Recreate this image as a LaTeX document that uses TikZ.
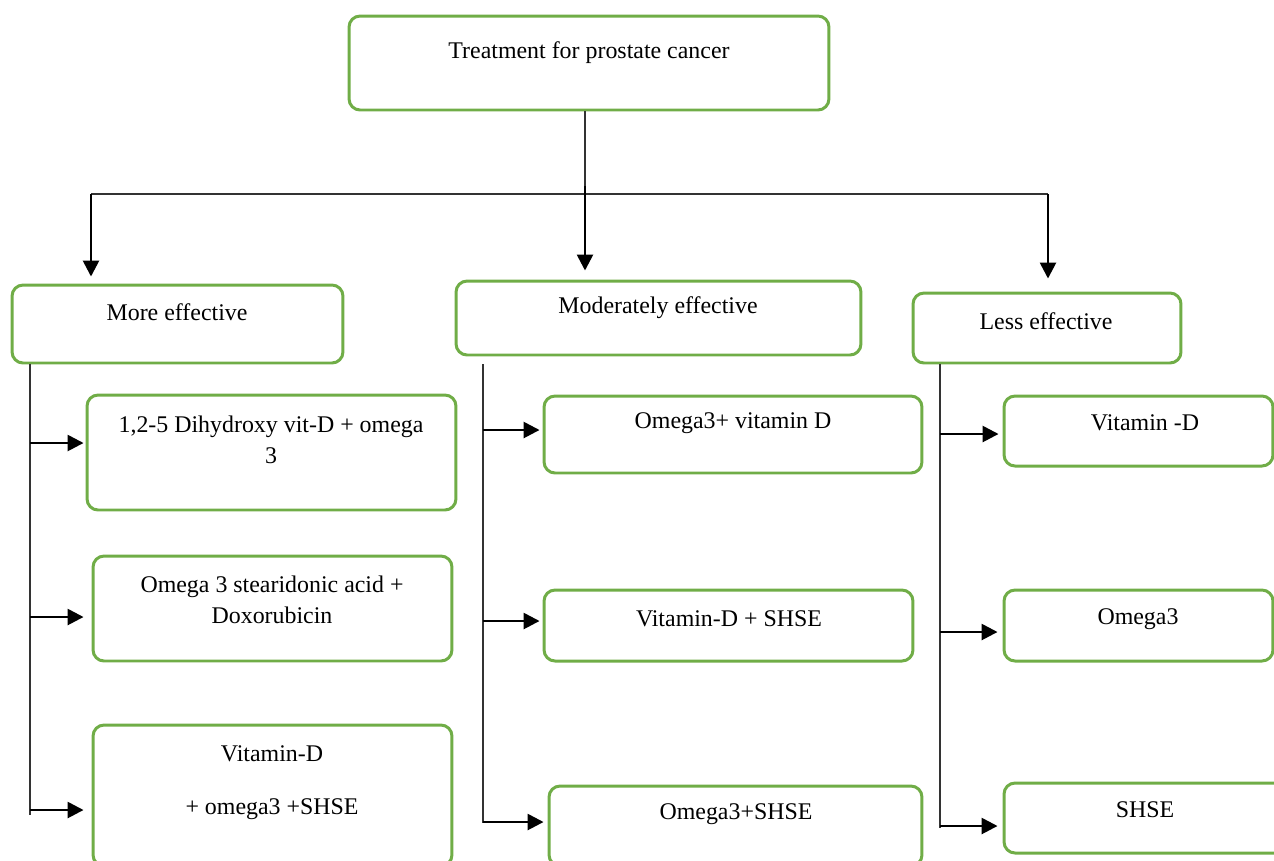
\documentclass[tikz,border=0pt]{standalone}
\usepackage{fontspec}
\setmainfont{Liberation Serif}
\usetikzlibrary{arrows.meta}
\definecolor{leafgreen}{HTML}{70AD47}
\tikzset{
  box/.style={draw=leafgreen, line width=1.7pt, rounded corners=0.22cm, inner sep=0pt},
  lbl/.style={font=\fontsize{13.6}{17.6}\selectfont, align=center, inner sep=0pt},
  wire/.style={draw=black!80, line width=0.6pt},
  arr/.style={-{Triangle[length=0.32cm,width=0.32cm]}, line width=1.5pt},
}
\begin{document}
\begin{tikzpicture}[x=0.02cm,y=-0.02cm]
    \clip (0,0) rectangle (1274,860);
    % boxes
    \node[box, minimum width=9.6cm, minimum height=1.88cm] (top) at (589,63) {};
    \node[box, minimum width=6.62cm, minimum height=1.56cm] (more) at (177.5,324) {};
    \node[box, minimum width=8.1cm, minimum height=1.48cm] (mod) at (658.5,318) {};
    \node[box, minimum width=5.36cm, minimum height=1.4cm] (less) at (1047,328) {};
    \node[box, minimum width=7.38cm, minimum height=2.3cm] (a1) at (271.5,452.5) {};
    \node[box, minimum width=7.18cm, minimum height=2.1cm] (a2) at (272.5,608.5) {};
    \node[box, minimum width=7.18cm, minimum height=2.82cm] (a3) at (272.5,795.5) {};
    \node[box, minimum width=7.56cm, minimum height=1.54cm] (b1) at (733,434.5) {};
    \node[box, minimum width=7.38cm, minimum height=1.42cm] (b2) at (728.5,625.5) {};
    \node[box, minimum width=7.46cm, minimum height=1.6cm] (b3) at (735.5,826) {};
    \node[box, minimum width=5.38cm, minimum height=1.4cm] (c1) at (1138.5,431) {};
    \node[box, minimum width=5.38cm, minimum height=1.42cm] (c2) at (1138.5,625.5) {};
    \node[box, minimum width=5.8cm, minimum height=1.4cm] (c3) at (1149,818) {};
    % texts
    \node[lbl] (top-t) at (589,53) {Treatment for prostate cancer};
    \node[lbl] (more-t) at (177,312) {More effective};
    \node[lbl] (mod-t) at (658,308) {Moderately effective};
    \node[lbl] (less-t) at (1046,321) {Less effective};
    \node[lbl] (a1-t) at (271,440) {1,2-5 Dihydroxy vit-D + omega\\3};
    \node[lbl] (a2-t) at (272,600) {Omega 3 stearidonic acid +\\Doxorubicin};
    \node[lbl] (a3-t) at (272,783) {Vitamin-D\\[0.44cm]+ omega3 +SHSE};
    \node[lbl] (b1-t) at (733,423) {Omega3+ vitamin D};
    \node[lbl] (b2-t) at (729,619) {Vitamin-D + SHSE};
    \node[lbl] (b3-t) at (736,814) {Omega3+SHSE};
    \node[lbl] (c1-t) at (1145,423) {Vitamin -D};
    \node[lbl] (c2-t) at (1138,619) {Omega3};
    \node[lbl] (c3-t) at (1145,810) {SHSE};
    % branching from the top box
    \coordinate (hub) at (585,194);
    \coordinate (mtop) at (585,186);
    \coordinate (lbr) at (91,194);
    \coordinate (rbr) at (1048,194);
    \draw[wire] (top.south -| hub) -- (hub);
    \draw[wire] (lbr) -- (rbr);
    \draw[arr, shorten >=0.14cm] (lbr) -- (lbr |- more.north);
    \draw[arr, shorten >=0.18cm] (mtop) -- (mtop |- mod.north);
    \draw[arr, shorten >=0.26cm] (rbr) -- (rbr |- less.north);
    % spines
    \coordinate (lsp) at (30,815);
    \coordinate (msp) at (483,823);
    \coordinate (rsp) at (940,828);
    \draw[wire] (lsp |- more.south) -- (lsp);
    \draw[wire] ([yshift=-0.16cm]mod.south -| msp) -- (msp);
    \draw[wire] (rsp |- less.south) -- (rsp);
    \draw[arr, shorten >=0.04cm] (lsp |- 0,443) -- (a1.west |- 0,443);
    \draw[arr, shorten >=0.16cm] (lsp |- 0,617) -- (a2.west |- 0,617);
    \draw[arr, shorten >=0.16cm] (lsp |- 0,810) -- (a3.west |- 0,810);
    \draw[arr, shorten >=0.06cm] (msp |- 0,430) -- (b1.west |- 0,430);
    \draw[arr, shorten >=0.06cm] (msp |- 0,621) -- (b2.west |- 0,621);
    \draw[arr, shorten >=0.08cm] (msp |- 0,822) -- (b3.west |- 0,822);
    \draw[arr, shorten >=0.08cm] (rsp |- 0,434) -- (c1.west |- 0,434);
    \draw[arr, shorten >=0.1cm] (rsp |- 0,632) -- (c2.west |- 0,632);
    \draw[arr, shorten >=0.1cm] (rsp |- 0,826) -- (c3.west |- 0,826);
  \end{tikzpicture}
\end{document}
